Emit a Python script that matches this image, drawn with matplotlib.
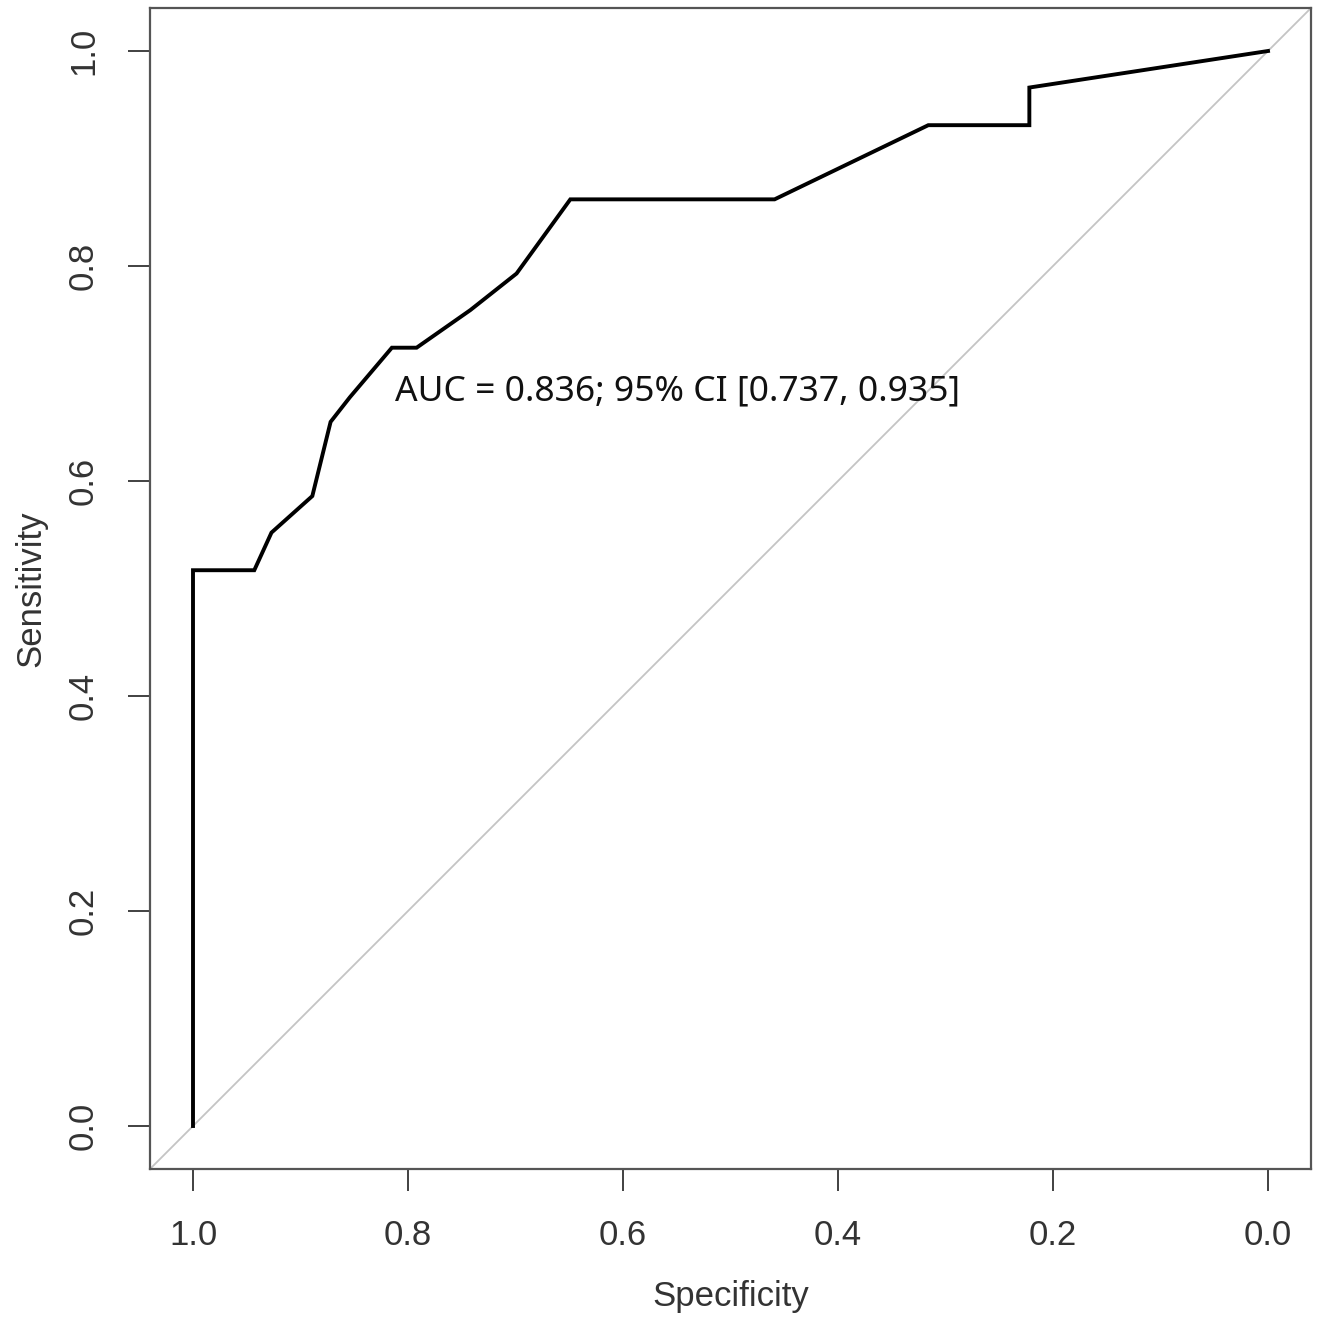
import matplotlib
matplotlib.use("Agg")
import matplotlib.pyplot as plt

# ROC curve points
specificity = [1.0, 1.0, 0.943, 0.927, 0.889, 0.872, 0.854, 0.815, 0.792,
               0.742, 0.699, 0.649, 0.459, 0.316, 0.222, 0.222, 0.0]
sensitivity = [0.0, 0.517, 0.517, 0.552, 0.586, 0.655, 0.678, 0.724, 0.724,
               0.759, 0.793, 0.862, 0.862, 0.931, 0.931, 0.966, 1.0]
ticks = [1.0, 0.8, 0.6, 0.4, 0.2, 0.0]
tick_labels = ["1.0", "0.8", "0.6", "0.4", "0.2", "0.0"]
auc_text = "AUC = 0.836; 95% CI [0.737, 0.935]"

fig = plt.figure(figsize=(13.2, 13.26), dpi=100)
ax = fig.add_axes([150 / 1320, 1 - 1169 / 1326, 1161 / 1320, 1161 / 1326])

# chance diagonal (sens = 1 - spec) across the whole box
ax.axline((1, 0), (0, 1), color="#c4c4c4", lw=1.3, zorder=1)
ax.plot(specificity, sensitivity, color="black", lw=2.8, zorder=3,
        solid_joinstyle="miter")

ax.text(0.812, 0.683, auc_text, fontsize=25.5, family="Noto Sans",
        color="#111111", ha="left", va="center")

ax.set_xlim(1.04, -0.04)
ax.set_ylim(-0.04, 1.04)
ax.set_xticks(ticks)
ax.set_xticklabels(tick_labels)
ax.set_yticks(ticks)
ax.set_yticklabels(tick_labels, rotation=90, va="center")

for lab in ax.get_xticklabels() + ax.get_yticklabels():
    lab.set_family("Liberation Sans")
    lab.set_fontsize(25)
    lab.set_color("#333333")
ax.tick_params(axis="both", length=16, width=1.3, color="#333333", pad=20)

ax.set_xlabel("Specificity", family="Liberation Sans", fontsize=25,
              color="#333333", labelpad=20)
ax.set_ylabel("Sensitivity", family="Liberation Sans", fontsize=25,
              color="#333333", labelpad=14)

for sp in ax.spines.values():
    sp.set_color("#555555")
    sp.set_linewidth(1.6)

fig.savefig("out.png", dpi=100)
